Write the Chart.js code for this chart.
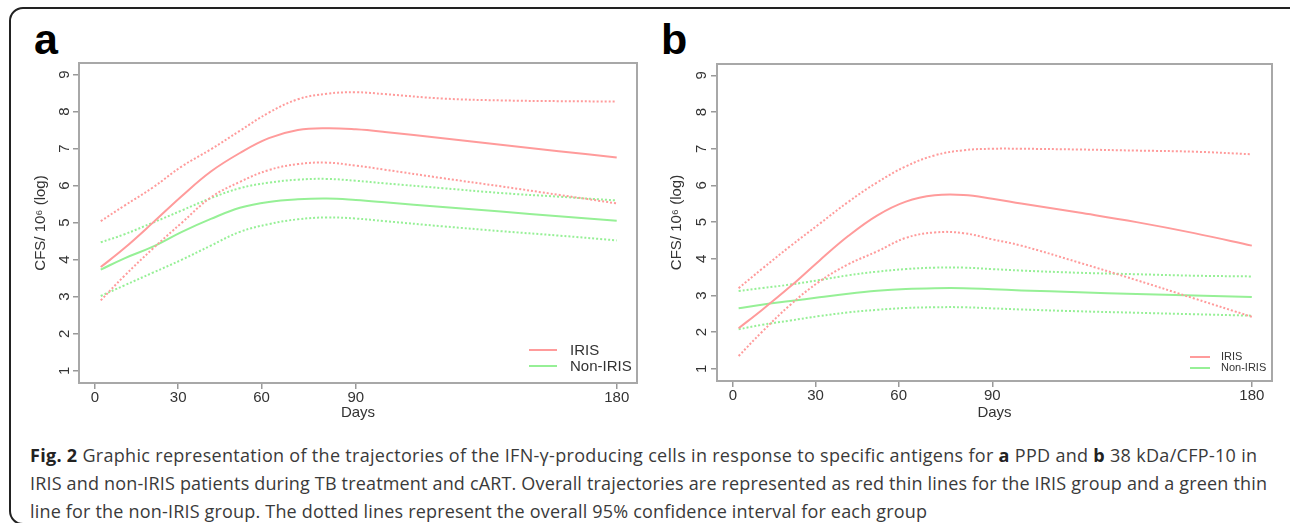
<!DOCTYPE html>
<html>
<head>
<meta charset="utf-8">
<script src="https://cdn.jsdelivr.net/npm/chart.js@4.4.0/dist/chart.umd.min.js"></script>
<style>
  body { margin: 0; width: 1290px; height: 523px; background: #fff; overflow: hidden; position: relative;
         font-family: 'Liberation Sans', Arial, sans-serif; }
  .frame { position: absolute; left: 9px; top: 7px; width: 1310px; height: 518px; border: 2px solid #222;
           border-radius: 14px; box-sizing: border-box; }
  .panel { position: absolute; top: 50px; width: 630px; height: 380px; }
  .tag { position: absolute; top: 18px; font: bold 43px 'Liberation Sans', Arial, sans-serif; line-height: 43px; color: #000; }
  .lg-line { position: absolute; height: 2px; }
  .lg-text { position: absolute; color: #333; white-space: nowrap; }
  .cap { position: absolute; left: 30px; white-space: nowrap; font: 18px 'Open Sans', 'Noto Sans', sans-serif;
         line-height: 20px; color: #3a3a3a; }
  .cap b { color: #222; }
</style>
</head>
<body>
<div class="frame"></div>

<div class="tag" style="left:34px">a</div>
<div class="tag" style="left:661px">b</div>

<div class="panel" style="left:20px"><canvas id="chartA"></canvas></div>
<div class="panel" style="left:660px"><canvas id="chartB"></canvas></div>

<!-- legends -->
<div class="lg-line" style="left:529px;top:349px;width:28px;background:#ff9b9b"></div>
<div class="lg-text" style="left:570px;top:341px;font-size:15px;line-height:18px">IRIS</div>
<div class="lg-line" style="left:529px;top:365px;width:28px;background:#96f096"></div>
<div class="lg-text" style="left:570px;top:357px;font-size:15px;line-height:18px">Non-IRIS</div>

<div class="lg-line" style="left:1190px;top:356px;width:20px;background:#ff9b9b"></div>
<div class="lg-text" style="left:1221px;top:350px;font-size:11px;line-height:13px">IRIS</div>
<div class="lg-line" style="left:1190px;top:367px;width:20px;background:#96f096"></div>
<div class="lg-text" style="left:1221px;top:361px;font-size:11px;line-height:13px">Non-IRIS</div>

<!-- caption -->
<div class="cap" data-w="1227" style="top:445px"><b>Fig. 2</b> Graphic representation of the trajectories of the IFN-γ-producing cells in response to specific antigens for <b>a</b> PPD and <b>b</b> 38 kDa/CFP-10 in</div>
<div class="cap" data-w="1237" style="top:473px">IRIS and non-IRIS patients during TB treatment and cART. Overall trajectories are represented as red thin lines for the IRIS group and a green thin</div>
<div class="cap" data-w="897" style="top:501px">line for the non-IRIS group. The dotted lines represent the overall 95% confidence interval for each group</div>

<script>
// ── Data ──
const days = [2, 10, 20, 30, 40, 50, 60, 70, 80, 90, 100, 120, 140, 160, 180];
const xTickAt = [0, 28.7, 57.5, 90, 180];
const xTickLabels = ['0', '30', '60', '90', '180'];
const yTicks = [1, 2, 3, 4, 5, 6, 7, 8, 9];

// a: PPD
const ppdIris      = [3.8, 4.3, 5.0, 5.72, 6.38, 6.88, 7.28, 7.5, 7.55, 7.52, 7.45, 7.28, 7.1, 6.93, 6.76];
const ppdIrisUp    = [5.04, 5.45, 5.95, 6.52, 6.98, 7.48, 7.97, 8.33, 8.48, 8.52, 8.47, 8.35, 8.3, 8.28, 8.27];
const ppdIrisLo    = [2.9, 3.55, 4.3, 5.0, 5.68, 6.1, 6.42, 6.58, 6.62, 6.54, 6.43, 6.2, 5.98, 5.75, 5.52];
const ppdNonIris   = [3.73, 4.03, 4.35, 4.75, 5.1, 5.4, 5.56, 5.63, 5.65, 5.61, 5.55, 5.42, 5.3, 5.17, 5.05];
const ppdNonIrisUp = [4.47, 4.68, 5.0, 5.33, 5.66, 5.93, 6.08, 6.16, 6.18, 6.13, 6.06, 5.93, 5.8, 5.7, 5.6];
const ppdNonIrisLo = [3.02, 3.3, 3.65, 4.0, 4.38, 4.75, 4.96, 5.09, 5.14, 5.11, 5.04, 4.9, 4.77, 4.65, 4.52];

// b: 38 kDa/CFP-10
const cfpIris      = [2.11, 2.6, 3.25, 3.95, 4.62, 5.18, 5.56, 5.73, 5.74, 5.64, 5.51, 5.26, 5.0, 4.7, 4.36];
const cfpIrisUp    = [3.2, 3.72, 4.35, 4.95, 5.55, 6.08, 6.52, 6.82, 6.96, 7.0, 7.0, 6.98, 6.95, 6.92, 6.85];
const cfpIrisLo    = [1.35, 2.0, 2.75, 3.38, 3.85, 4.2, 4.57, 4.72, 4.7, 4.53, 4.36, 3.9, 3.42, 2.92, 2.42];
const cfpNonIris   = [2.65, 2.75, 2.85, 2.95, 3.05, 3.13, 3.18, 3.2, 3.2, 3.17, 3.14, 3.09, 3.04, 3.0, 2.96];
const cfpNonIrisUp = [3.12, 3.2, 3.3, 3.42, 3.55, 3.65, 3.72, 3.76, 3.76, 3.72, 3.68, 3.62, 3.58, 3.54, 3.52];
const cfpNonIrisLo = [2.08, 2.2, 2.32, 2.44, 2.54, 2.61, 2.66, 2.68, 2.68, 2.65, 2.62, 2.57, 2.53, 2.49, 2.45];

const RED = '#ff9b9b';
const GREEN = '#96f096';

// ── helpers ──
function series(label, vals, color, dotted) {
  return {
    label,
    data: vals.map((v, i) => ({ x: days[i], y: v })),
    borderColor: color,
    borderWidth: 2,
    borderDash: dotted ? [2, 2] : [],
    pointRadius: 0,
    fill: false,
    tension: 0.4
  };
}

// R-style box round the plot region
const boxPlugin = {
  id: 'rbox',
  afterDraw(chart) {
    const { ctx, chartArea: a } = chart;
    ctx.save();
    ctx.strokeStyle = '#a8a8a8';
    ctx.lineWidth = 2;
    ctx.strokeRect(a.left, a.top, a.right - a.left, a.bottom - a.top);
    ctx.restore();
  }
};

const axisFont = { size: 15, family: 'Liberation Sans' };

function makePanel(id, sets, geo) {
  new Chart(document.getElementById(id), {
    type: 'line',
    data: { datasets: sets },
    options: {
      responsive: true,
      maintainAspectRatio: false,
      animation: false,
      layout: { padding: { top: geo.top, right: geo.right, left: 0, bottom: 0 } },
      plugins: { legend: { display: false }, tooltip: { enabled: false } },
      scales: {
        x: {
          type: 'linear', min: -5.5, max: 187,
          afterBuildTicks: s => { s.ticks = xTickAt.map(v => ({ value: v })); },
          afterFit: s => { s.height = geo.xh; },
          ticks: { callback: (v, i) => xTickLabels[i], color: '#333', font: axisFont,
                   padding: 0, maxRotation: 0, autoSkip: false },
          grid: { drawOnChartArea: false, color: '#999', lineWidth: 1.5, tickLength: 6 },
          border: { display: false },
          title: { display: true, text: 'Days', color: '#333', font: axisFont,
                   padding: { top: 0, bottom: 8 } }
        },
        y: {
          min: 0.67, max: 9.31,
          afterBuildTicks: s => { s.ticks = yTicks.map(v => ({ value: v })); },
          afterFit: s => { s.width = geo.yw; },
          ticks: { color: '#333', font: axisFont, minRotation: 90, maxRotation: 90,
                   crossAlign: 'center', padding: geo.tp },
          grid: { drawOnChartArea: false, color: '#999', lineWidth: 1.5, tickLength: 6 },
          border: { display: false },
          title: { display: true, text: 'CFS/ 10⁶ (log)', color: '#333', font: axisFont,
                   padding: { top: geo.tt, bottom: 0 } }
        }
      }
    },
    plugins: [boxPlugin]
  });
}

makePanel('chartA', [
  series('IRIS', ppdIris, RED, false),
  series('IRIS 95% CI upper', ppdIrisUp, RED, true),
  series('IRIS 95% CI lower', ppdIrisLo, RED, true),
  series('Non-IRIS', ppdNonIris, GREEN, false),
  series('Non-IRIS 95% CI upper', ppdNonIrisUp, GREEN, true),
  series('Non-IRIS 95% CI lower', ppdNonIrisLo, GREEN, true)
], { top: 9, right: 13, xh: 47, yw: 59, tp: 4, tt: 12 });

makePanel('chartB', [
  series('IRIS', cfpIris, RED, false),
  series('IRIS 95% CI upper', cfpIrisUp, RED, true),
  series('IRIS 95% CI lower', cfpIrisLo, RED, true),
  series('Non-IRIS', cfpNonIris, GREEN, false),
  series('Non-IRIS 95% CI upper', cfpNonIrisUp, GREEN, true),
  series('Non-IRIS 95% CI lower', cfpNonIrisLo, GREEN, true)
], { top: 10, right: 18, xh: 49, yw: 57, tp: 5, tt: 8 });

// ── stretch caption lines to the widths seen in the figure ──
document.querySelectorAll('.cap').forEach(el => {
  const target = parseFloat(el.dataset.w);
  const w = el.getBoundingClientRect().width;
  const n = el.textContent.length - 1;
  el.style.letterSpacing = ((target - w) / n).toFixed(3) + 'px';
});
</script>
</body>
</html>
